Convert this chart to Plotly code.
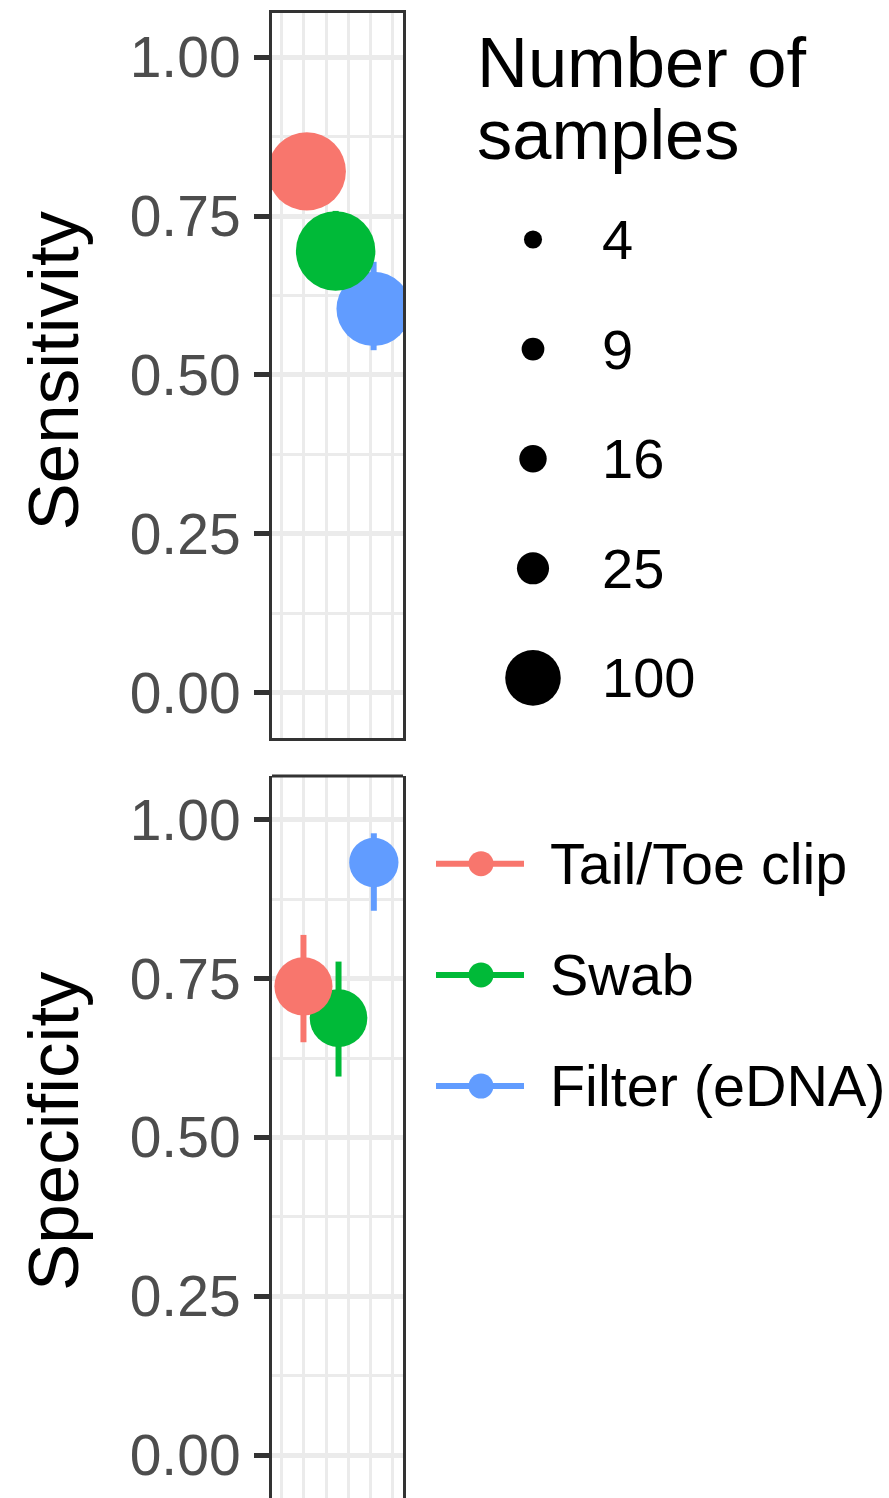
import numpy as np
import plotly.graph_objects as go

# ---- data -------------------------------------------------------------
methods = ["Tail/Toe clip", "Swab", "Filter (eDNA)"]
method_colors = ["#F8766D", "#00BA38", "#619CFF"]

# Sensitivity panel
sens_x = [1.13, 2.43, 4.14]
sens = [0.820, 0.695, 0.604]
sens_lo = [0.770, 0.640, 0.539]
sens_hi = [0.870, 0.758, 0.678]
sens_n = [220, 228, 196]

# Specificity panel
spec_x = [0.98, 2.56, 4.15]
spec = [0.738, 0.688, 0.933]
spec_lo = [0.650, 0.596, 0.857]
spec_hi = [0.819, 0.777, 0.979]
spec_n = [111, 109, 75]

y_ticks = [0.0, 0.25, 0.5, 0.75, 1.0]
y_ticktext = ["0.00", "0.25", "0.50", "0.75", "1.00"]
x_grid = [0, 1, 2, 3, 4, 5]

size_breaks = [4, 9, 16, 25, 100]

# ---- styling ------------------------------------------------------------
W, H = 889, 1498
FONT = "Liberation Sans, Arial, Helvetica, sans-serif"
GRID = "#EBEBEB"
DARK = "#333333"


def diameter(n):
    # point area scale: diameter grows linearly with sqrt(n)
    return 8.66 + 4.69 * np.sqrt(np.asarray(n, dtype=float))


fig = go.Figure()


def add_panel(xa, ya, xs, ys, lo, hi, ns):
    # error bars first, beneath every point
    for i in range(len(methods)):
        fig.add_trace(go.Scatter(
            x=[xs[i]], y=[ys[i]], xaxis=xa, yaxis=ya, mode="markers",
            marker=dict(size=1, color="rgba(0,0,0,0)"),
            error_y=dict(type="data", symmetric=False,
                         array=[hi[i] - ys[i]], arrayminus=[ys[i] - lo[i]],
                         color=method_colors[i], thickness=6, width=0),
            showlegend=False, hoverinfo="skip"))
    # points, last method drawn at the bottom
    for i in reversed(range(len(methods))):
        fig.add_trace(go.Scatter(
            x=[xs[i]], y=[ys[i]], xaxis=xa, yaxis=ya, mode="markers",
            marker=dict(size=float(diameter(ns[i])), color=method_colors[i],
                        opacity=1, line=dict(width=0)),
            name=methods[i], showlegend=False, cliponaxis=True))


add_panel("x", "y", sens_x, sens, sens_lo, sens_hi, sens_n)
add_panel("x2", "y2", spec_x, spec, spec_lo, spec_hi, spec_n)

# ---- legends, drawn on a pixel-scaled overlay axis ----------------------
leg_x0 = 420
size_dot_x = 533
size_y0, size_dy = 239.5, 109.6
fig.add_trace(go.Scatter(
    x=[size_dot_x] * len(size_breaks),
    y=[size_y0 + k * size_dy for k in range(len(size_breaks))],
    xaxis="x3", yaxis="y3", mode="markers",
    marker=dict(size=diameter(size_breaks), color="black", opacity=1,
                line=dict(width=0)),
    showlegend=False, hoverinfo="skip", cliponaxis=False))

col_y0, col_dy = 863.7, 111.2
col_x = [436, 524]
col_dot_x = 481
for i, m in enumerate(methods):
    yy = col_y0 + i * col_dy
    fig.add_trace(go.Scatter(
        x=col_x, y=[yy, yy], xaxis="x3", yaxis="y3", mode="lines",
        line=dict(color=method_colors[i], width=6),
        showlegend=False, hoverinfo="skip", cliponaxis=False))
    fig.add_trace(go.Scatter(
        x=[col_dot_x], y=[yy], xaxis="x3", yaxis="y3", mode="markers",
        marker=dict(size=25, color=method_colors[i], line=dict(width=0)),
        showlegend=False, hoverinfo="skip", cliponaxis=False))

annotations = []
for k, b in enumerate(size_breaks):
    annotations.append(dict(
        x=600, y=size_y0 + k * size_dy, xref="x3", yref="y3",
        text=str(b), showarrow=False, xanchor="left", yanchor="middle",
        font=dict(family=FONT, size=56, color="black")))
for i, m in enumerate(methods):
    annotations.append(dict(
        x=548, y=col_y0 + i * col_dy, xref="x3", yref="y3",
        text=m, showarrow=False, xanchor="left", yanchor="middle",
        font=dict(family=FONT, size=57.5, color="black")))
for txt, yy in [("Number of", 62), ("samples", 134)]:
    annotations.append(dict(
        x=475, y=yy, xref="x3", yref="y3", text=txt, showarrow=False,
        xanchor="left", yanchor="middle",
        font=dict(family=FONT, size=70.5, color="black")))

# axis titles
for txt, yc in [("Sensitivity", 370.5), ("Specificity", 1131)]:
    annotations.append(dict(
        x=53 / W, y=1 - yc / H, xref="paper", yref="paper", text=txt,
        textangle=-90, showarrow=False, xanchor="center", yanchor="middle",
        font=dict(family=FONT, size=71, color="black")))

# ---- axes -------------------------------------------------------------
x_dom = [272 / W, 403 / W]
x_rng = [-0.437, 5.464]

xcommon = dict(domain=x_dom, range=x_rng, tickvals=x_grid, showticklabels=False,
               ticks="", showgrid=True, gridcolor=GRID, gridwidth=2.7,
               zeroline=False, fixedrange=True)
ycommon = dict(tickvals=y_ticks, ticktext=y_ticktext, ticks="outside", ticklen=15,
               tickwidth=5, tickcolor=DARK, showgrid=True, gridcolor=GRID,
               gridwidth=5, zeroline=False, showline=True, mirror=True,
               linecolor=DARK, linewidth=3, ticklabelstandoff=2,
               minor=dict(tickvals=[0.125, 0.375, 0.625, 0.875], showgrid=True,
                          gridcolor=GRID, gridwidth=2.5, ticks=""),
               tickfont=dict(family=FONT, size=57, color="#4D4D4D"),
               fixedrange=True)

fig.update_layout(
    width=W, height=H,
    margin=dict(l=0, r=0, t=0, b=0),
    paper_bgcolor="white", plot_bgcolor="white",
    font=dict(family=FONT),
    xaxis=dict(**xcommon, anchor="y", showline=True, mirror=True,
               linecolor=DARK, linewidth=3),
    yaxis=dict(**ycommon, domain=[1 - 738 / H, 1 - 13 / H],
               range=[-0.0708, 1.0692], anchor="x"),
    xaxis2=dict(**xcommon, anchor="y2", showline=False),
    yaxis2=dict(**ycommon, domain=[0, 1 - 776 / H],
                range=[-0.0676, 1.0692], anchor="x2"),
    xaxis3=dict(domain=[leg_x0 / W, 1], range=[leg_x0, W], visible=False,
                fixedrange=True),
    yaxis3=dict(domain=[0, 1], range=[H, 0], visible=False, fixedrange=True,
                anchor="x3"),
    annotations=annotations,
    shapes=[dict(type="line", xref="x2 domain", yref="y2 domain",
                 x0=0, x1=1, y0=1, y1=1,
                 line=dict(color=DARK, width=3))],
    showlegend=False,
)

fig.write_html("out.html")
